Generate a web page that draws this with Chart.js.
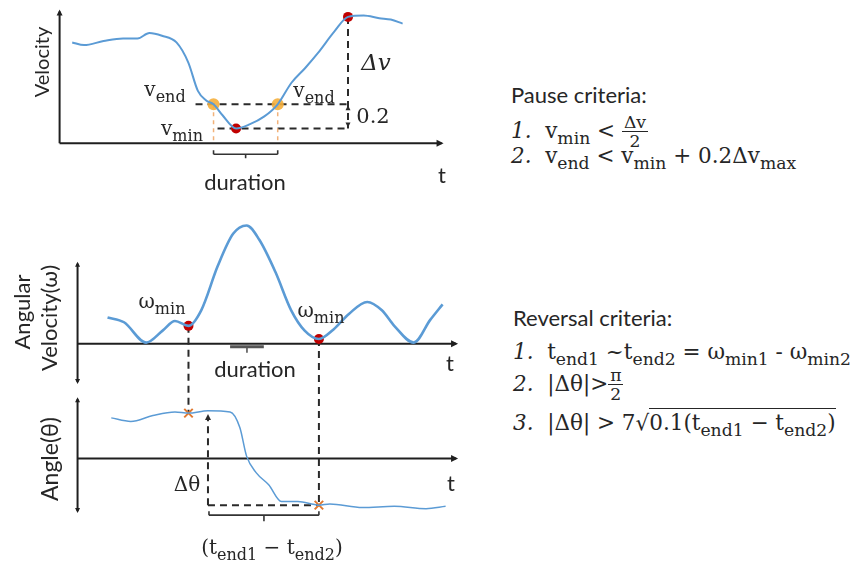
<!DOCTYPE html>
<html>
<head>
<meta charset="utf-8">
<script src="https://cdn.jsdelivr.net/npm/chart.js@4.4.0/dist/chart.umd.min.js"></script>
<style>
  body { margin:0; background:#fff; }
  #wrap { position:relative; width:855px; height:565px; overflow:hidden; font-family:Lato, sans-serif; color:#262626; }
  canvas { position:absolute; }
  .lbl { position:absolute; white-space:nowrap; font-size:22px; line-height:1; }
  .c { transform:translate(-50%,-50%); }
  .rot { transform:translate(-50%,-50%) rotate(-90deg); }
  .m { font-family:"DejaVu Serif", serif; font-size:20px; }
  .crit { font-size:21.5px; }
  .m sub { font-size:0.8em; vertical-align:-0.35em; line-height:0; }
  .frac { display:inline-block; vertical-align:middle; text-align:center; font-size:0.8em; line-height:1.05; }
  .frac > span { display:block; padding:0 2px; }
  .frac > span:first-child { border-bottom:1.3px solid #262626; }
  .sq { border-top:1.5px solid #262626; padding-top:1px; }
</style>
</head>
<body>
<div id="wrap">
  <canvas id="velChart" width="470" height="200" style="left:0;top:0"></canvas>
  <canvas id="revChart" width="470" height="365" style="left:0;top:200px"></canvas>

  <!-- velocity panel labels -->
  <div class="lbl rot" style="left:41px;top:62px;font-size:20px">Velocity</div>
  <div class="lbl m c" style="left:165px;top:89px">v<sub>end</sub></div>
  <div class="lbl m c" style="left:314px;top:90px">v<sub>end</sub></div>
  <div class="lbl m c" style="left:182px;top:128px">v<sub>min</sub></div>
  <div class="lbl m c" style="left:376px;top:62px;font-size:23px"><i>Δv</i></div>
  <div class="lbl m c" style="left:373px;top:116px;font-size:21px">0.2</div>
  <div class="lbl c" style="left:245px;top:182px">duration</div>
  <div class="lbl c" style="left:442px;top:175px">t</div>

  <!-- angular velocity / angle labels -->
  <div class="lbl rot" style="left:22px;top:312px">Angular</div>
  <div class="lbl rot" style="left:49px;top:318px">Velocity(ω)</div>
  <div class="lbl m c" style="left:162px;top:301px">ω<sub>min</sub></div>
  <div class="lbl m c" style="left:321px;top:310px">ω<sub>min</sub></div>
  <div class="lbl c" style="left:255px;top:369px">duration</div>
  <div class="lbl c" style="left:450px;top:363px">t</div>
  <div class="lbl rot" style="left:49px;top:459px;font-size:23px">Angle(θ)</div>
  <div class="lbl m c" style="left:187px;top:484px">Δθ</div>
  <div class="lbl c" style="left:451px;top:483px">t</div>
  <div class="lbl m c" style="left:272px;top:547px">(t<sub>end1</sub> − t<sub>end2</sub>)</div>

  <!-- criteria text -->
  <div class="lbl" style="left:511px;top:84px">Pause criteria:</div>
  <div class="lbl m crit" style="left:511px;top:113px"><i>1.</i>&nbsp; v<sub>min</sub> &lt; <span class="frac"><span>Δv</span><span>2</span></span></div>
  <div class="lbl m crit" style="left:511px;top:145px"><i>2.</i>&nbsp; v<sub>end</sub> &lt; v<sub>min</sub> + 0.2Δv<sub>max</sub></div>

  <div class="lbl" style="left:513px;top:307px">Reversal criteria:</div>
  <div class="lbl m crit" style="left:513px;top:341px"><i>1.</i>&nbsp; t<sub>end1</sub> ~t<sub>end2</sub> = ω<sub>min1</sub> - ω<sub>min2</sub></div>
  <div class="lbl m crit" style="left:513px;top:366px"><i>2.</i>&nbsp; |Δθ|&gt;<span class="frac"><span>π</span><span>2</span></span></div>
  <div class="lbl m crit" style="left:513px;top:412px"><i>3.</i>&nbsp; |Δθ| &gt; 7√<span class="sq">0.1(t<sub>end1</sub> − t<sub>end2</sub>)</span></div>
</div>

<script>
// velocity trace (t in % of axis length)
const velT = [3.3, 6.4, 11.5, 16.6, 20.4, 23.5, 26.8, 30.6, 33.7, 36.2, 38.3, 40.3, 42.6, 46.2, 49.7, 53.6, 57.1, 60.7, 64.3, 67.6, 71.9, 75.5, 79.6, 83.7, 86.7, 89.8];
const velV = [7.5, 7.3, 7.6, 7.8, 7.8, 8.2, 8.0, 7.5, 6.0, 3.9, 3.2, 2.9, 2.1, 1.1, 1.4, 2.0, 2.9, 4.5, 5.6, 6.7, 8.3, 9.4, 9.5, 9.3, 9.2, 8.9];
const vEndT = [40.3, 57.1];
const vEnd = 2.9;
const vMinT = 46.2, vMin = 1.1;
const vPeakT = 75.5, vPeak = 9.4;

// angular velocity trace
const omT = [8.0, 12.4, 18.3, 22.7, 26.0, 29.6, 33.0, 37.4, 41.5, 45.1, 48.5, 52.8, 57.0, 60.6, 64.4, 68.3, 72.4, 77.3, 81.2, 84.5, 89.7, 94.1, 97.4];
const omW = [2.2, 1.8, 0.1, 1.1, 1.9, 1.5, 2.8, 6.5, 9.2, 9.9, 8.7, 6.0, 2.8, 1.1, 0.4, 1.2, 2.5, 3.5, 2.8, 1.5, 0.1, 2.0, 3.3];
const omMinT = [29.6, 64.4];
const omMin = [1.5, 0.4];
const durT = [40.7, 49.7];

// angle trace
const thT = [9.0, 14.2, 20.1, 26.0, 29.6, 34.8, 40.7, 43.3, 45.1, 47.7, 51.0, 54.4, 58.8, 64.4, 67.3, 76.0, 84.5, 93.0, 98.2];
const thA = [3.4, 3.1, 3.6, 3.9, 3.8, 4.0, 3.9, 2.6, 0.2, -1.2, -2.2, -3.6, -3.6, -3.9, -3.8, -4.1, -4.0, -4.2, -4.0];
const thMark = [3.8, -3.9];
const dThetaT = 34.8;

const blue = '#5b9bd5';
const ink = '#1f1f1f';

function pts(xs, ys) { return xs.map((x, i) => ({ x: x, y: ys[i] })); }

function line(ctx, x1, y1, x2, y2, dash) {
  ctx.save();
  ctx.setLineDash(dash || []);
  ctx.beginPath(); ctx.moveTo(x1, y1); ctx.lineTo(x2, y2); ctx.stroke();
  ctx.restore();
}
function head(ctx, x, y, dir, s) {
  // dir: 'up' | 'down' | 'right'
  s = s || 7;
  ctx.beginPath();
  if (dir === 'up') { ctx.moveTo(x, y); ctx.lineTo(x - s / 2, y + s); ctx.lineTo(x + s / 2, y + s); }
  else if (dir === 'down') { ctx.moveTo(x, y); ctx.lineTo(x - s / 2, y - s); ctx.lineTo(x + s / 2, y - s); }
  else { ctx.moveTo(x, y); ctx.lineTo(x - s, y - s / 2); ctx.lineTo(x - s, y + s / 2); }
  ctx.closePath(); ctx.fill();
}
function bracket(ctx, x1, x2, y, down) {
  line(ctx, x1, y - 4, x1, y); line(ctx, x1, y, x2, y); line(ctx, x2, y - 4, x2, y);
  const m = (x1 + x2) / 2;
  line(ctx, m, y, m, y + down);
}

const baseOpts = {
  responsive: false, animation: false, devicePixelRatio: 1, events: [],
  layout: { padding: 0 },
  plugins: { legend: { display: false }, tooltip: { enabled: false } },
  elements: { line: { cubicInterpolationMode: 'monotone' } }
};

const pauseMarks = {
  id: 'pauseMarks',
  beforeDatasetsDraw(c) {
    const ctx = c.ctx, X = v => c.scales.x.getPixelForValue(v), Y = v => c.scales.y.getPixelForValue(v);
    ctx.save();
    ctx.strokeStyle = ink; ctx.fillStyle = ink; ctx.lineWidth = 2;
    // axes
    line(ctx, X(0), Y(0), X(0), Y(9.8)); head(ctx, X(0), Y(9.8) - 2, 'up', 6);
    line(ctx, X(0), Y(0), X(100), Y(0)); head(ctx, X(100) + 2, Y(0), 'right', 7);
    // dashed guides
    ctx.strokeStyle = '#2a2a2a';
    line(ctx, X(vEndT[0]) - 18, Y(vEnd), X(vPeakT), Y(vEnd), [7, 5]);
    line(ctx, X(vEndT[0]) + 4, Y(vMin), X(vPeakT), Y(vMin), [7, 5]);
    line(ctx, X(vPeakT), Y(vPeak), X(vPeakT), Y(vMin), [7, 5]);
    ctx.fillStyle = '#2a2a2a';
    head(ctx, X(vPeakT), Y(vEnd) + 1, 'up', 5);
    head(ctx, X(vPeakT), Y(vMin) - 1, 'down', 5);
    // t_end drop lines
    ctx.strokeStyle = '#f2b27a'; ctx.lineWidth = 1.5;
    vEndT.forEach(t => line(ctx, X(t), Y(vEnd), X(t), Y(0) - 2, [4, 4]));
    // duration bracket
    ctx.strokeStyle = '#333'; ctx.lineWidth = 1.6;
    bracket(ctx, X(vEndT[0]), X(vEndT[1]), Y(0) + 11, 4);
    ctx.restore();
  }
};

new Chart(document.getElementById('velChart'), {
  type: 'line',
  data: {
    datasets: [
      { data: pts(velT, velV), borderColor: blue, borderWidth: 2, pointRadius: 0, clip: false },
      { data: pts(vEndT, [vEnd, vEnd]), showLine: false, pointRadius: 6, pointBackgroundColor: 'rgba(245,175,60,0.9)', pointBorderWidth: 0, clip: false },
      { data: [{ x: vMinT, y: vMin }, { x: vPeakT, y: vPeak }], showLine: false, pointRadius: 5, pointBackgroundColor: '#c00000', pointBorderWidth: 0, clip: false }
    ]
  },
  options: Object.assign({}, baseOpts, {
    scales: {
      x: { type: 'linear', display: false, min: -55 / 3.92, max: (470 - 55) / 3.92 },
      y: { type: 'linear', display: false, min: -54 / 14.3, max: 146 / 14.3 }
    }
  }),
  plugins: [pauseMarks]
});

const reversalMarks = {
  id: 'reversalMarks',
  beforeDatasetsDraw(c) {
    const ctx = c.ctx, X = v => c.scales.x.getPixelForValue(v);
    const W = v => c.scales.yw.getPixelForValue(v), A = v => c.scales.ya.getPixelForValue(v);
    ctx.save();
    ctx.strokeStyle = ink; ctx.fillStyle = ink; ctx.lineWidth = 2;
    // angular velocity axes
    line(ctx, X(0), W(6.7), X(0), W(-3.2));
    head(ctx, X(0), W(6.7) - 2, 'up', 5); head(ctx, X(0), W(-3.2) + 2, 'down', 5);
    line(ctx, X(0), W(0), X(101), W(0)); head(ctx, X(101) + 2, W(0), 'right', 7);
    // angle axes
    line(ctx, X(0), A(4.95), X(0), A(-4.4));
    head(ctx, X(0), A(4.95) - 2, 'up', 5); head(ctx, X(0), A(-4.4) + 2, 'down', 5);
    line(ctx, X(0), A(0), X(101), A(0)); head(ctx, X(101) + 2, A(0), 'right', 7);
    // drop lines from omega minima to angle
    ctx.strokeStyle = '#2a2a2a';
    omMinT.forEach((t, i) => line(ctx, X(t), W(omMin[i]), X(t), A(thMark[i]), [7, 5]));
    // delta theta
    line(ctx, X(dThetaT), A(thMark[1]), X(dThetaT), A(thMark[0]) + 6, [7, 5]);
    line(ctx, X(dThetaT), A(thMark[1]), X(omMinT[1]), A(thMark[1]), [7, 5]);
    ctx.fillStyle = '#2a2a2a';
    head(ctx, X(dThetaT), A(thMark[0]) + 1, 'up', 6);
    // brackets
    ctx.strokeStyle = '#333'; ctx.lineWidth = 1.6;
    bracket(ctx, X(dThetaT) + 1, X(omMinT[1]), A(thMark[1]) + 10, 6);
    ctx.strokeStyle = '#555'; ctx.lineWidth = 3;
    line(ctx, X(durT[0]), W(0) + 3, X(durT[1]), W(0) + 3);
    ctx.lineWidth = 1.6;
    line(ctx, X((durT[0] + durT[1]) / 2), W(0) + 3, X((durT[0] + durT[1]) / 2), W(0) + 9);
    ctx.restore();
  }
};

new Chart(document.getElementById('revChart'), {
  type: 'line',
  data: {
    datasets: [
      { data: pts(omT, omW), yAxisID: 'yw', borderColor: blue, borderWidth: 2.6, pointRadius: 0, clip: false },
      { data: pts(thT, thA), yAxisID: 'ya', borderColor: blue, borderWidth: 1.5, pointRadius: 0, clip: false },
      { data: pts(omMinT, omMin), yAxisID: 'yw', showLine: false, pointRadius: 5, pointBackgroundColor: '#c00000', pointBorderWidth: 0, clip: false },
      { data: pts(omMinT, thMark), yAxisID: 'ya', showLine: false, pointStyle: 'crossRot', pointRadius: 6, pointBorderColor: '#e0782f', pointBorderWidth: 2, clip: false }
    ]
  },
  options: Object.assign({}, baseOpts, {
    scales: {
      x: { type: 'linear', display: false, min: -72 / 3.88, max: (470 - 72) / 3.88 },
      yw: { type: 'linear', display: false, min: -223 / 12.5, max: 142 / 12.5 },
      ya: { type: 'linear', display: false, min: -103 / 12.5, max: 262 / 12.5 }
    }
  }),
  plugins: [reversalMarks]
});
</script>
</body>
</html>
